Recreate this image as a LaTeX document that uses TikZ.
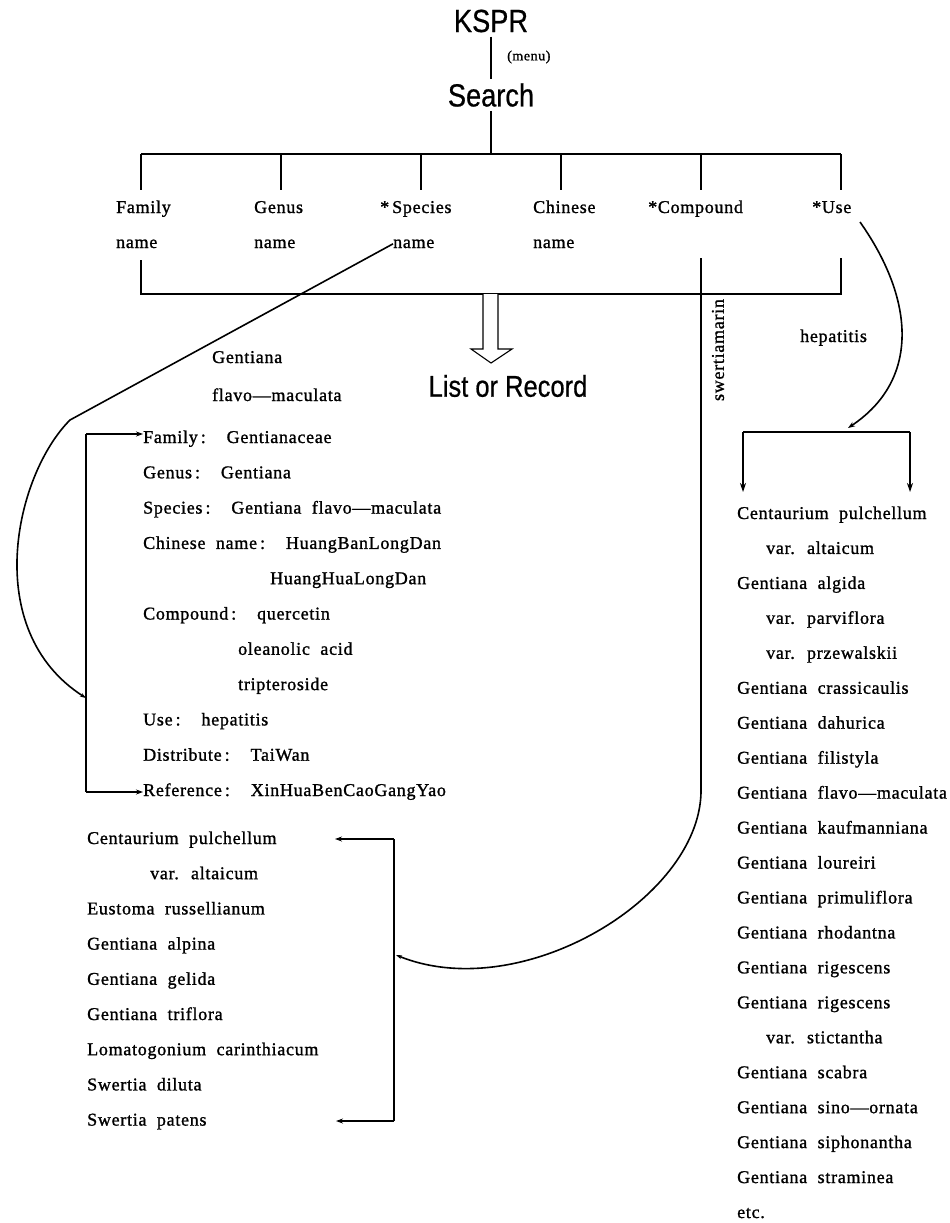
\documentclass[tikz,border=0pt]{standalone}
\usepackage{fontspec}
\setmainfont{Liberation Serif}[WordSpace=2,LetterSpace=4,FakeBold=1.2]
\newfontfamily\hsans{Liberation Sans}[FakeStretch=0.85,FakeBold=0.6]
\usetikzlibrary{arrows.meta}
\begin{document}
\begin{tikzpicture}[x=1pt,y=-1pt,
  txt/.style={font=\fontsize{18}{20}\selectfont, inner sep=0pt, anchor=base west},
  big/.style={font=\hsans\fontsize{32}{34}\selectfont, inner sep=4pt},
  ln/.style={line width=1.1pt},
  crv/.style={line width=1.6pt},
  arr/.style={-{Stealth[length=7pt,width=5pt]}}
]
\useasboundingbox[fill=white] (0,0) rectangle (950,1223);
% header
\node[big] (kspr) at (491,21) {KSPR};
\node[font=\fontsize{14}{16}\selectfont, inner sep=0pt, anchor=west] (menu) at (507,57) {(menu)};
\node[big] (search) at (491,95) {Search};
\node[font=\hsans\fontsize{30}{32}\selectfont, inner sep=0pt] (lor) at (508,386) {List or Record};
\draw[ln] (kspr.south) -- (search.north);
\coordinate (tl) at (141,154);
\coordinate (tr) at (841,154);
\draw[ln] (search.south) -- (search.south |- tl);
\draw[ln] (tl) -- (tr);
\foreach \x [count=\i] in {141,281,421,561,701,841}
  \draw[ln] (\x,154) coordinate (d\i) -- ++(0,36);
% category labels
\node[txt] (fam) at (116,213) {Family};
\node[txt] (gen) at (254,213) {Genus};
\node[txt] (spe) at (380,213) {*\,Species};
\node[txt] (chi) at (533,213) {Chinese};
\node[txt] (cmp) at (648,213) {*Compound};
\node[txt] (use) at (812,213) {*Use};
\node[txt] (famn) at (116,248) {name};
\node[txt] (genn) at (254,248) {name};
\node[txt] (spn) at (393,248) {name};
\node[txt] (chin) at (533,248) {name};
% bottom bar
\coordinate (bl) at (141,260);
\coordinate (br) at (841,258);
\draw[ln] (bl) -- (141,294) -- (841,294) -- (br);
% hollow arrow
\draw[ln, fill=white] (483,294) -- (483,349) -- (471,349) -- (491,363) -- (512,349) -- (498,349) -- (498,294);
% species labels
\node[txt] (g1) at (212,363) {Gentiana};
\node[txt] (g2) at (212,401) {flavo—maculata};
% record
\foreach \t/\x [count=\i] in {
  Family\,:\ \ Gentianaceae/143,
  Genus\,:\ \ Gentiana/143,
  Species\,:\ \ Gentiana flavo—maculata/143,
  Chinese name\,:\ \ HuangBanLongDan/143,
  HuangHuaLongDan/270,
  Compound\,:\ \ quercetin/143,
  oleanolic acid/238,
  tripteroside/238,
  Use\,:\ \ hepatitis/143,
  Distribute\,:\ \ TaiWan/143,
  Reference\,:\ \ XinHuaBenCaoGangYao/143}
  \node[txt] (rec\i) at ({\x},{443+35.3*(\i-1)}) {\t};
% record bracket
\coordinate (bt) at (86,434);
\coordinate (bb) at (86,792);
\coordinate (bd) at (86,698);
\draw[ln] (bt) -- (bb);
\draw[ln,arr] (bt) -- (bt -| rec1.west);
\draw[ln,arr] (bb) -- (bb -| rec11.west);
% species curve
\coordinate (kink) at (70,420);
\draw[crv,-{Stealth[length=6pt,width=4pt]}] (spn.west) -- (kink) .. controls (15,475) and (-20,630) .. (bd);
% left list
\foreach \t/\x [count=\i] in {
  Centaurium pulchellum/87,
  var. altaicum/150,
  Eustoma russellianum/87,
  Gentiana alpina/87,
  Gentiana gelida/87,
  Gentiana triflora/87,
  Lomatogonium carinthiacum/87,
  Swertia diluta/87,
  Swertia patens/87}
  \node[txt] (l\i) at ({\x},{844+35.2*(\i-1)}) {\t};
\coordinate (lbt) at (394,839);
\coordinate (lbb) at (394,1121);
\coordinate (lbm) at (396,955);
\draw[ln] (lbt) -- (lbb);
\draw[ln,arr] (lbt) -- (lbt -| 335,0);
\draw[ln,arr] (lbb) -- (lbb -| 336,0);
% compound line
\coordinate (ct) at (701,258);
\coordinate (ce) at (701,793);
\draw[crv,-{Stealth[length=6pt,width=4pt]}] (ct) -- (ce) .. controls (698,900) and (520,1005) .. (lbm);
\node[txt, anchor=center, rotate=90] (sw) at (718,350) {swertiamarin};
% use curve
\coordinate (u0) at (860,222);
\coordinate (u1) at (848,428);
\draw[crv,arr] (u0) .. controls (915,300) and (920,380) .. (u1);
\node[txt] (hep) at (800,342) {hepatitis};
\coordinate (ra) at (743,432);
\coordinate (rb) at (910,432);
\draw[ln] (ra) -- (rb);
\draw[ln,-{Stealth[length=9pt,width=6pt]}] (ra) -- ++(0,60);
\draw[ln,-{Stealth[length=9pt,width=6pt]}] (rb) -- ++(0,60);
% right list
\foreach \t/\x [count=\i] in {
  Centaurium pulchellum/737,
  var. altaicum/766,
  Gentiana algida/737,
  var. parviflora/766,
  var. przewalskii/766,
  Gentiana crassicaulis/737,
  Gentiana dahurica/737,
  Gentiana filistyla/737,
  Gentiana flavo—maculata/737,
  Gentiana kaufmanniana/737,
  Gentiana loureiri/737,
  Gentiana primuliflora/737,
  Gentiana rhodantna/737,
  Gentiana rigescens/737,
  Gentiana rigescens/737,
  var. stictantha/766,
  Gentiana scabra/737,
  Gentiana sino—ornata/737,
  Gentiana siphonantha/737,
  Gentiana straminea/737,
  etc./737}
  \node[txt] (r\i) at ({\x},{519+34.95*(\i-1)}) {\t};
\end{tikzpicture}
\end{document}
